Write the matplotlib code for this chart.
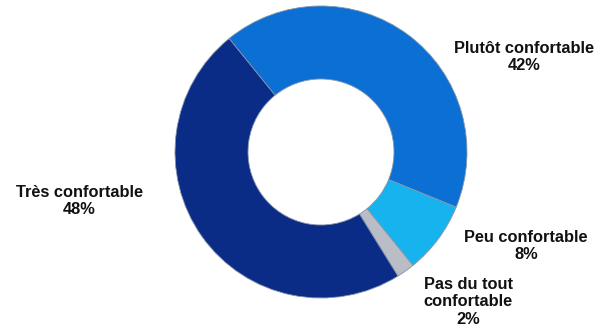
import matplotlib
matplotlib.use("Agg")
import matplotlib.pyplot as plt

# donnees
categories = ["Plutôt confortable", "Peu confortable", "Pas du tout\nconfortable", "Très confortable"]
valeurs = [42, 8, 2, 48]
couleurs = ["#0b6fd4", "#17b3ef", "#b9bdc6", "#0b2c86"]

# position des etiquettes (pixels, origine en haut a gauche)
pos_labels = [(524, 57), (526, 246), (468, 302), (79, 201)]

fig = plt.figure(figsize=(5.99, 3.33), dpi=100)
ax = fig.add_axes([0, 0, 1, 1])

H = 333
ax.pie(valeurs, colors=couleurs, startangle=129, counterclock=False,
       radius=146, center=(321, H - 152),
       wedgeprops=dict(width=73, edgecolor="#8795ad", linewidth=0.6))

for cat, v, (x, y) in zip(categories, valeurs, pos_labels):
    ax.text(x, H - y, f"{cat}\n{v}%", ha="center", va="center",
            fontsize=11.8, fontweight="bold", family="Liberation Sans",
            linespacing=1.22, color="#111111")

ax.set_xlim(0, 599)
ax.set_ylim(0, H)
ax.set_aspect("equal")
ax.axis("off")

fig.savefig("out.png", dpi=100)
